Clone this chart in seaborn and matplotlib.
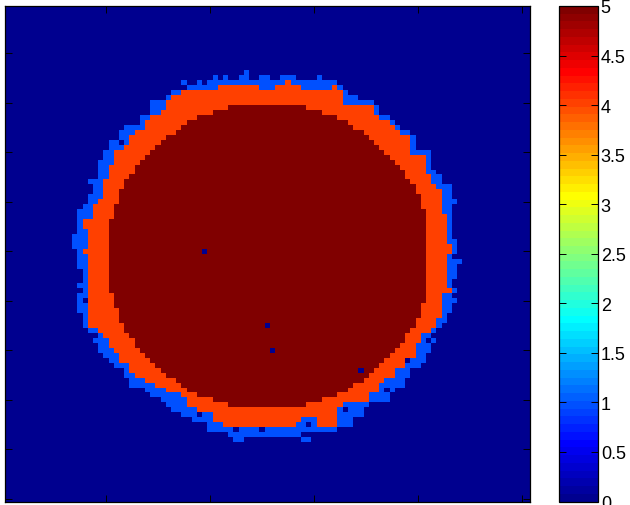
import matplotlib

matplotlib.use("Agg")

import matplotlib.pyplot as plt
import numpy as np
import seaborn as sns
from matplotlib.colors import ListedColormap

N_ROWS = 100
N_COLS = 101
FIRST_ROW = 14  # rows 14..88 carry the ring, everything else is 0

BLUE_LEVEL = 1
ORANGE_LEVEL = 4
CORE_LEVEL = 5

# per-row column extents (1-based, inclusive), 0 = nothing in that row
BLUE_LEFT = [
    0, 0, 40, 36, 33, 32, 29, 29, 29, 27, 27, 24, 23, 23, 21,
    21, 20, 20, 19, 19, 19, 19, 17, 18, 18, 17, 17, 16, 15, 15,
    15, 15, 15, 14, 14, 14, 15, 15, 15, 15, 16, 16, 16, 15, 16,
    15, 15, 15, 15, 16, 16, 16, 17, 19, 19, 19, 19, 20, 21, 22,
    23, 24, 25, 25, 28, 29, 31, 32, 33, 35, 37, 40, 40, 44, 0,
]
BLUE_RIGHT = [
    0, 0, 64, 65, 66, 68, 71, 72, 72, 74, 75, 76, 78, 79, 79,
    79, 82, 82, 82, 82, 83, 84, 84, 86, 86, 86, 87, 86, 86, 86,
    86, 86, 86, 86, 87, 87, 87, 86, 88, 87, 87, 87, 86, 86, 87,
    86, 87, 86, 86, 85, 85, 84, 83, 82, 83, 82, 82, 81, 81, 80,
    78, 78, 77, 77, 75, 74, 74, 70, 69, 69, 67, 67, 64, 57, 0,
]
ORANGE_LEFT = [
    0, 0, 0, 42, 35, 33, 32, 32, 31, 29, 28, 28, 26, 25, 25,
    24, 22, 22, 22, 21, 21, 21, 20, 20, 20, 20, 19, 18, 18, 18,
    16, 16, 17, 17, 17, 17, 16, 17, 17, 17, 17, 17, 17, 17, 17,
    17, 17, 17, 17, 17, 17, 17, 19, 20, 21, 21, 22, 23, 23, 25,
    25, 26, 28, 30, 32, 35, 36, 36, 38, 41, 41, 43, 0, 0, 0,
]
ORANGE_RIGHT = [
    0, 0, 0, 64, 65, 65, 65, 71, 71, 72, 74, 75, 76, 78, 78,
    78, 78, 81, 81, 81, 81, 82, 82, 83, 84, 84, 84, 84, 84, 85,
    85, 85, 85, 85, 85, 86, 86, 85, 85, 85, 85, 85, 85, 85, 86,
    84, 84, 84, 84, 84, 83, 83, 82, 80, 80, 79, 79, 79, 77, 77,
    75, 75, 73, 72, 72, 70, 70, 65, 64, 64, 64, 56, 0, 0, 0,
]
CORE_LEFT = [
    0, 0, 0, 0, 0, 0, 0, 44, 41, 38, 36, 35, 34, 32, 31,
    30, 29, 28, 27, 26, 26, 25, 24, 24, 23, 23, 23, 22, 22, 22,
    21, 21, 21, 21, 21, 21, 21, 21, 21, 21, 21, 21, 21, 21, 21,
    22, 22, 22, 23, 23, 23, 24, 24, 25, 26, 26, 27, 28, 29, 30,
    31, 32, 34, 35, 36, 38, 41, 44, 0, 0, 0, 0, 0, 0, 0,
]
CORE_RIGHT = [
    0, 0, 0, 0, 0, 0, 0, 58, 61, 64, 66, 67, 69, 70, 71,
    72, 73, 74, 75, 76, 77, 77, 78, 79, 79, 80, 80, 80, 81, 81,
    81, 81, 81, 81, 81, 81, 81, 81, 81, 81, 81, 81, 81, 81, 81,
    81, 81, 80, 80, 80, 79, 79, 78, 77, 77, 76, 75, 74, 73, 72,
    71, 70, 69, 67, 66, 64, 61, 58, 0, 0, 0, 0, 0, 0, 0,
]

# single cells that break the runs: (row, col, value)
EXTRA_CELLS = [
    (14, 47, 1),
    (15, 41, 1), (15, 43, 1), (15, 46, 1), (15, 47, 1), (15, 50, 1), (15, 51, 1),
    (15, 54, 1), (15, 55, 1), (15, 56, 1), (15, 61, 1),
    (16, 35, 1), (16, 38, 1), (16, 55, 4),
    (17, 50, 1), (17, 51, 1), (17, 52, 1),
    (17, 58, 1), (17, 59, 1), (17, 60, 1), (17, 61, 1), (17, 62, 1), (17, 63, 1),
    (28, 23, 0), (60, 16, 0), (68, 18, 1), (74, 23, 0), (83, 38, 0),
    (86, 45, 0), (86, 50, 0),
    (84, 58, 1), (84, 59, 1), (84, 60, 1), (85, 59, 0),
    (85, 61, 4), (85, 62, 4), (85, 63, 4), (85, 64, 4),
    (82, 66, 0), (78, 74, 0), (72, 78, 0), (68, 82, 0),
    (88, 45, 1), (88, 46, 1), (88, 58, 1), (88, 59, 1),
    (50, 39, 0), (65, 51, 0), (70, 52, 0), (74, 69, 0),
]

X_TICKS = [20, 40, 60, 80, 100]
Y_TICKS = [10, 20, 30, 40, 50, 60, 70, 80, 90, 100]
CBAR_TICKS = [0, 0.5, 1, 1.5, 2, 2.5, 3, 3.5, 4, 4.5, 5]
CBAR_LABELS = ["0", "0.5", "1", "1.5", "2", "2.5", "3", "3.5", "4", "4.5", "5"]


def matlab_jet(n=64):
    # same construction as MATLAB's jet(n)
    m = n // 4
    u = np.concatenate([np.arange(1, m + 1) / m, np.ones(m - 1), np.arange(m, 0, -1) / m])
    g = m // 2 + np.arange(1, len(u) + 1)
    lut = np.zeros((n, 3))
    for ch, idx in ((0, g + m), (1, g), (2, g - m)):
        ok = (idx >= 1) & (idx <= n)
        lut[idx[ok] - 1, ch] = u[ok]
    return ListedColormap(lut)


grid = np.zeros((N_ROWS, N_COLS))
for i in range(len(BLUE_LEFT)):
    row = FIRST_ROW + i
    runs = (
        (BLUE_LEFT[i], BLUE_RIGHT[i], BLUE_LEVEL),
        (ORANGE_LEFT[i], ORANGE_RIGHT[i], ORANGE_LEVEL),
        (CORE_LEFT[i], CORE_RIGHT[i], CORE_LEVEL),
    )
    for lo, hi, level in runs:
        if lo:
            grid[row - 1, lo - 1:hi] = level
for row, col, value in EXTRA_CELLS:
    grid[row - 1, col - 1] = value

plt.rcParams["font.family"] = ["Liberation Sans", "DejaVu Sans"]

W, H = 630, 506
fig = plt.figure(figsize=(W / 100, H / 100), dpi=100)
ax = fig.add_axes([4.5 / W, 3.5 / H, 525.5 / W, 495.5 / H])
cax = fig.add_axes([559 / W, 3.5 / H, 39 / W, 495.5 / H])

sns.heatmap(grid, cmap=matlab_jet(64), vmin=0, vmax=5, ax=ax, cbar_ax=cax,
            xticklabels=False, yticklabels=False)

ax.set_xticks(np.array(X_TICKS) - 0.5)
ax.set_yticks(np.array(Y_TICKS) - 0.5)
ax.tick_params(direction="in", length=5, width=0.7, color="black",
               top=True, right=True, bottom=True, left=True,
               labelbottom=False, labelleft=False)
for sp in ax.spines.values():
    sp.set_visible(True)
    sp.set_color("black")
    sp.set_linewidth(0.9)

cbar = ax.collections[0].colorbar
cbar.set_ticks(CBAR_TICKS, labels=CBAR_LABELS)
cbar.outline.set_linewidth(0.9)
cbar.outline.set_edgecolor("black")
cax.tick_params(axis="y", direction="in", length=5, width=0.7, color="black",
                left=True, right=True, labelleft=False, labelright=True,
                labelsize=13, pad=2)

fig.savefig("out.png", dpi=100)
plt.close(fig)
